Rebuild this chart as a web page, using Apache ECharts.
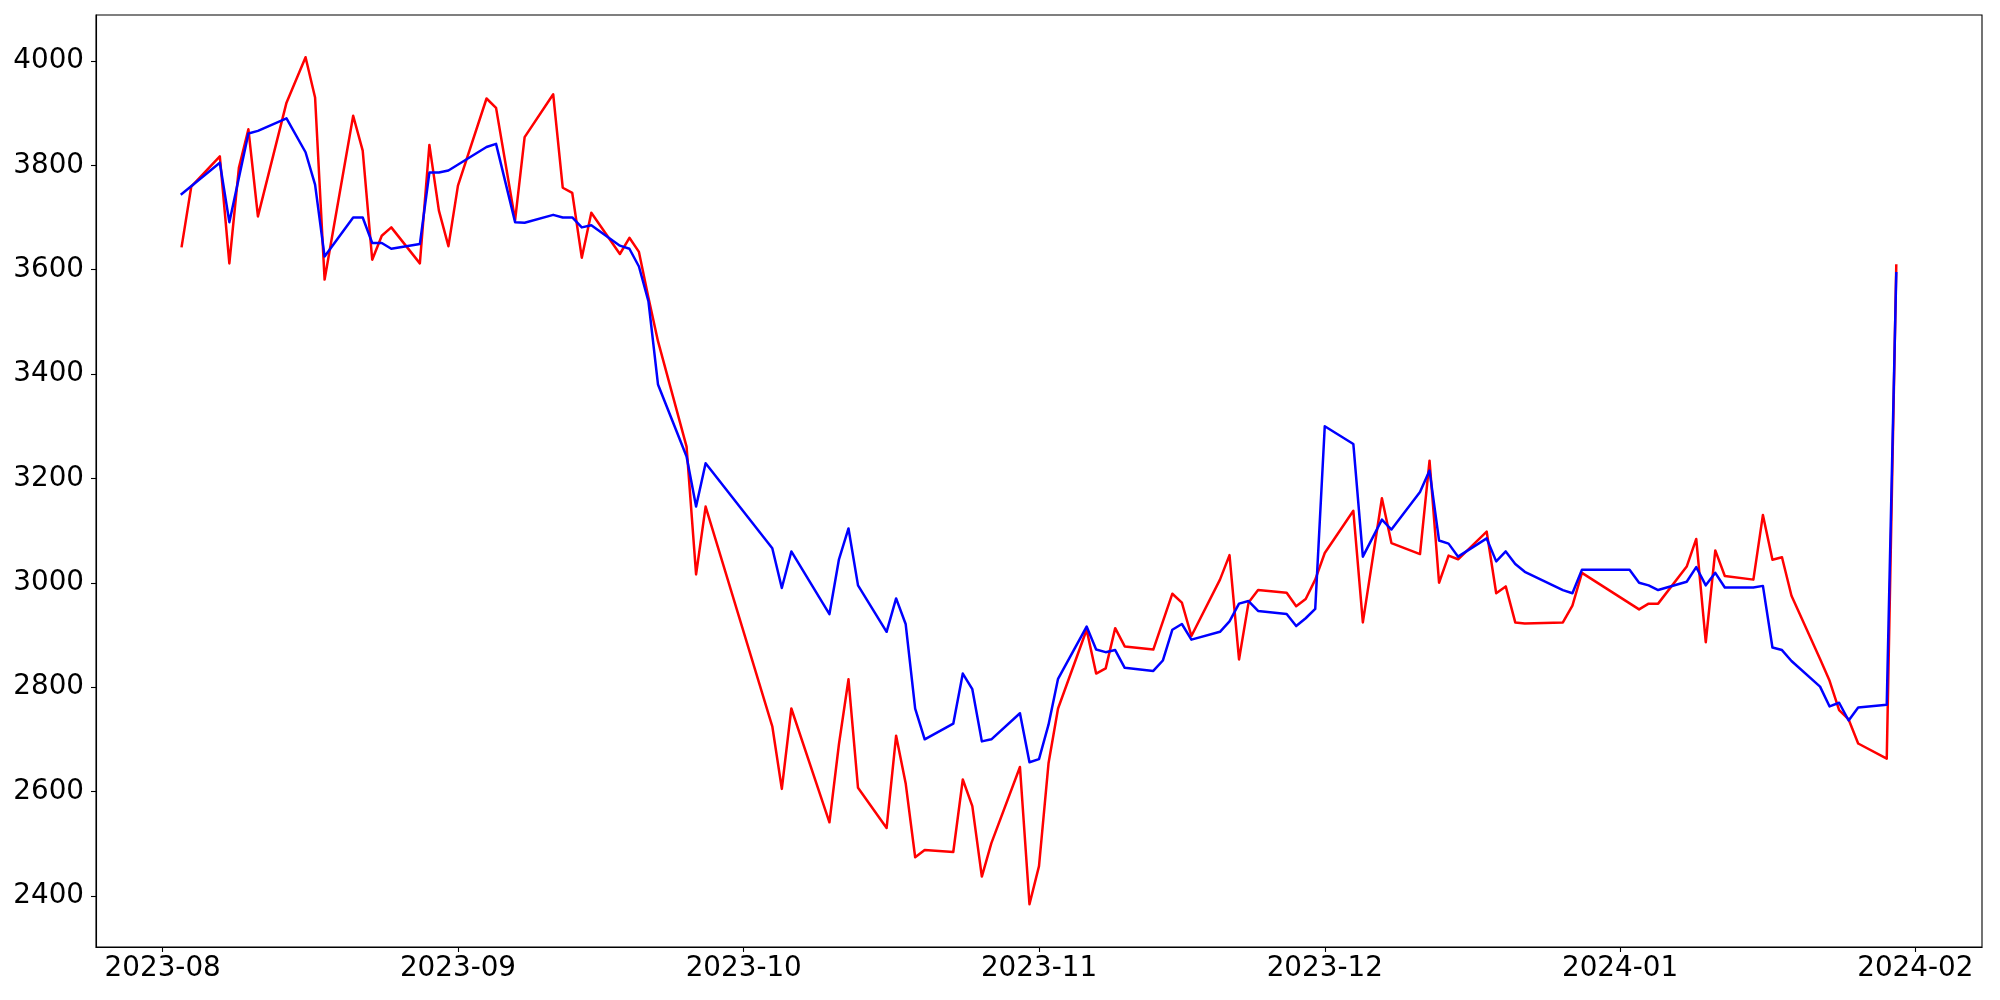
<!DOCTYPE html>
<html>
<head>
<meta charset="utf-8">
<script src="https://cdn.jsdelivr.net/npm/echarts@6/dist/echarts.min.js"></script>
<style>
html,body{margin:0;padding:0;background:#fff;}
#chart{width:2000px;height:1000px;}
</style>
</head>
<body>
<div id="chart"></div>
<script>
const redDates = ['2023-08-03','2023-08-04','2023-08-07','2023-08-08','2023-08-09','2023-08-10','2023-08-11','2023-08-14','2023-08-16','2023-08-17','2023-08-18','2023-08-21','2023-08-22','2023-08-23','2023-08-24','2023-08-25','2023-08-28','2023-08-29','2023-08-30','2023-08-31','2023-09-01','2023-09-04','2023-09-05','2023-09-07','2023-09-08','2023-09-11','2023-09-12','2023-09-13','2023-09-14','2023-09-15','2023-09-18','2023-09-19','2023-09-20','2023-09-21','2023-09-22','2023-09-25','2023-09-26','2023-09-27','2023-10-04','2023-10-05','2023-10-06','2023-10-10','2023-10-11','2023-10-12','2023-10-13','2023-10-16','2023-10-17','2023-10-18','2023-10-19','2023-10-20','2023-10-23','2023-10-24','2023-10-25','2023-10-26','2023-10-27','2023-10-30','2023-10-31','2023-11-01','2023-11-02','2023-11-03','2023-11-06','2023-11-07','2023-11-08','2023-11-09','2023-11-10','2023-11-13','2023-11-15','2023-11-16','2023-11-17','2023-11-20','2023-11-21','2023-11-22','2023-11-23','2023-11-24','2023-11-27','2023-11-28','2023-11-29','2023-11-30','2023-12-01','2023-12-04','2023-12-05','2023-12-07','2023-12-08','2023-12-11','2023-12-12','2023-12-13','2023-12-14','2023-12-15','2023-12-18','2023-12-19','2023-12-20','2023-12-21','2023-12-22','2023-12-26','2023-12-27','2023-12-28','2024-01-03','2024-01-04','2024-01-05','2024-01-08','2024-01-09','2024-01-10','2024-01-11','2024-01-12','2024-01-15','2024-01-16','2024-01-17','2024-01-18','2024-01-19','2024-01-22','2024-01-23','2024-01-24','2024-01-25','2024-01-26','2024-01-29','2024-01-30'];
const redValues = [3645,3759,3817,3612,3795,3869,3702,3920,4007,3930,3581,3895,3828,3619,3665,3681,3612,3839,3713,3645,3761,3928,3910,3695,3854,3936,3757,3747,3623,3709,3630,3661,3634,3546,3463,3261,3016,3146,2725,2605,2759,2541,2691,2815,2607,2530,2707,2616,2474,2488,2484,2623,2572,2437,2501,2647,2384,2457,2654,2759,2910,2826,2836,2913,2878,2872,2979,2962,2898,3006,3053,2853,2962,2986,2981,2955,2969,3006,3057,3138,2924,3162,3076,3055,3234,3000,3052,3045,3098,2980,2993,2924,2922,2924,2956,3019,2949,2960,2960,3031,3084,2886,3062,3013,3006,3130,3044,3049,2975,2854,2812,2756,2738,2692,2663,3608];

const blueDates = ['2023-08-03','2023-08-07','2023-08-08','2023-08-10','2023-08-11','2023-08-14','2023-08-16','2023-08-17','2023-08-18','2023-08-21','2023-08-22','2023-08-23','2023-08-24','2023-08-25','2023-08-28','2023-08-29','2023-08-30','2023-08-31','2023-09-04','2023-09-05','2023-09-07','2023-09-08','2023-09-11','2023-09-12','2023-09-13','2023-09-14','2023-09-15','2023-09-18','2023-09-19','2023-09-20','2023-09-21','2023-09-22','2023-09-25','2023-09-26','2023-09-27','2023-10-04','2023-10-05','2023-10-06','2023-10-10','2023-10-11','2023-10-12','2023-10-13','2023-10-16','2023-10-17','2023-10-18','2023-10-19','2023-10-20','2023-10-23','2023-10-24','2023-10-25','2023-10-26','2023-10-27','2023-10-30','2023-10-31','2023-11-01','2023-11-02','2023-11-03','2023-11-06','2023-11-07','2023-11-08','2023-11-09','2023-11-10','2023-11-13','2023-11-14','2023-11-15','2023-11-16','2023-11-17','2023-11-20','2023-11-21','2023-11-22','2023-11-23','2023-11-24','2023-11-27','2023-11-28','2023-11-29','2023-11-30','2023-12-01','2023-12-04','2023-12-05','2023-12-07','2023-12-08','2023-12-11','2023-12-12','2023-12-13','2023-12-14','2023-12-15','2023-12-18','2023-12-19','2023-12-20','2023-12-21','2023-12-22','2023-12-26','2023-12-27','2023-12-28','2024-01-02','2024-01-03','2024-01-04','2024-01-05','2024-01-08','2024-01-09','2024-01-10','2024-01-11','2024-01-12','2024-01-15','2024-01-16','2024-01-17','2024-01-18','2024-01-19','2024-01-22','2024-01-23','2024-01-24','2024-01-25','2024-01-26','2024-01-29','2024-01-30'];
const blueValues = [3745,3805,3691,3861,3866,3890,3825,3763,3625,3700,3700,3651,3651,3640,3649,3786,3786,3790,3835,3841,3691,3690,3705,3700,3700,3681,3685,3646,3640,3606,3539,3380,3242,3146,3229,3066,2990,3060,2940,3045,3104,2995,2906,2970,2921,2759,2700,2730,2826,2796,2696,2700,2750,2656,2662,2728,2816,2916,2872,2867,2871,2837,2831,2851,2910,2921,2891,2906,2926,2960,2965,2946,2940,2917,2932,2950,3300,3266,3050,3121,3102,3174,3215,3081,3075,3050,3085,3041,3060,3036,3021,2986,2980,3025,3025,3000,2995,2986,3002,3030,2995,3019,2991,2991,2994,2876,2871,2850,2801,2763,2770,2736,2761,2766,3593];

const yTickValues = [2400,2600,2800,3000,3200,3400,3600,3800,4000];
const xTickLabels = ['2023-08','2023-09','2023-10','2023-11','2023-12','2024-01','2024-02'];

function toUTC(s){ const p = s.split('-').map(Number); return Date.UTC(p[0], p[1]-1, p[2] || 1); }
function pair(dates, vals){ return dates.map((d,i)=>[toUTC(d), vals[i]]); }
const xTickValues = xTickLabels.map(toUTC);
const FONT = 'DejaVu Sans';

const chart = echarts.init(document.getElementById('chart'), null, {renderer:'canvas'});
chart.setOption({
  animation: false,
  backgroundColor: '#ffffff',
  grid: {left: 96, right: 18, top: 15, bottom: 53, show: true, borderColor: '#000', borderWidth: 1.1, backgroundColor: 'transparent'},
  xAxis: {
    type: 'value',
    min: Date.UTC(2023,6,25),
    max: Date.UTC(2024,1,8),
    splitLine: {show: false},
    axisLine: {show: true, lineStyle: {color: '#000', width: 1.1}},
    axisTick: {show: true, length: 5, lineStyle: {color: '#000', width: 1.1}, customValues: xTickValues},
    axisLabel: {
      customValues: xTickValues,
      color: '#000', fontSize: 27.8, fontFamily: FONT, margin: 8,
      formatter: function(v){ const i = xTickValues.indexOf(v); return i >= 0 ? xTickLabels[i] : ''; }
    }
  },
  yAxis: {
    type: 'value',
    min: 2302,
    max: 4088,
    splitLine: {show: false},
    axisLine: {show: true, lineStyle: {color: '#000', width: 1.1}},
    axisTick: {show: true, length: 5, lineStyle: {color: '#000', width: 1.1}, customValues: yTickValues},
    axisLabel: {customValues: yTickValues, color: '#000', fontSize: 27.8, fontFamily: FONT, margin: 12,
      formatter: function(v){ return String(v); }}
  },
  series: [
    {type: 'line', name: 'red', data: pair(redDates, redValues), showSymbol: false, symbol: 'none', lineStyle: {color: '#ff0000', width: 2.5, join: 'round', cap: 'square'}, itemStyle: {color: '#ff0000'}, z: 2},
    {type: 'line', name: 'blue', data: pair(blueDates, blueValues), showSymbol: false, symbol: 'none', lineStyle: {color: '#0000ff', width: 2.5, join: 'round', cap: 'square'}, itemStyle: {color: '#0000ff'}, z: 3}
  ]
});
</script>
</body>
</html>
